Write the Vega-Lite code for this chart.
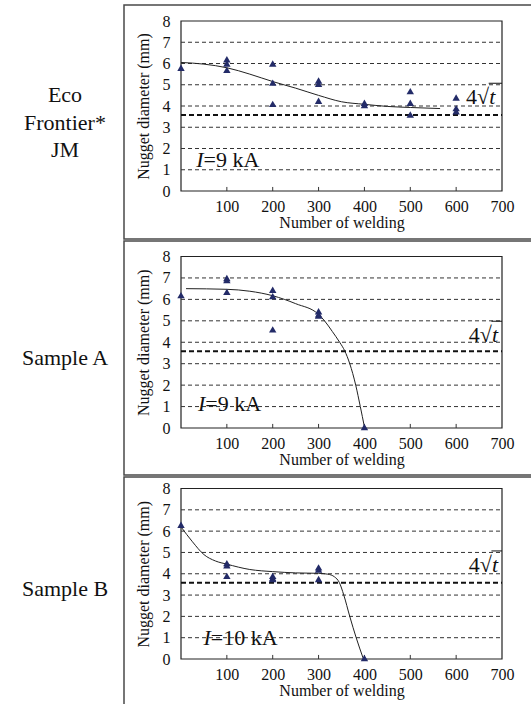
{
  "$schema": "https://vega.github.io/schema/vega-lite/v6.json",
  "padding": {"left": 7, "top": 4, "right": 0, "bottom": 0},
  "config": {
    "view": {"stroke": "#4a4a4a", "strokeWidth": 1.5},
    "concat": {"spacing": 0},
    "font": "'Liberation Serif', 'Times New Roman', 'DejaVu Serif', serif",
    "text": {"font": "'Liberation Serif', 'Times New Roman', 'DejaVu Serif', serif", "fontSize": 22, "color": "#111"},
    "axis": {"labelFont": "'Liberation Serif', 'Times New Roman', 'DejaVu Serif', serif", "titleFont": "'Liberation Serif', 'Times New Roman', 'DejaVu Serif', serif", "labelFontSize": 16, "titleFontSize": 16, "titleFontWeight": "normal", "labelColor": "#111", "titleColor": "#111", "grid": false, "domain": false, "ticks": false, "tickSize": 0, "labelFlush": false, "labelOverlap": false},
    "axisY": {"labelOverlap": false, "tickCount": 9}
  },
  "datasets": {
    "grid": [{"v": 1}, {"v": 2}, {"v": 3}, {"v": 4}, {"v": 5}, {"v": 6}, {"v": 7}],
    "ticks": [{"welds": 100}, {"welds": 200}, {"welds": 300}, {"welds": 400}, {"welds": 500}, {"welds": 600}],
    "pts1": [
      {"welds": 0, "diameter": 5.8},
      {"welds": 100, "diameter": 6.2}, {"welds": 100, "diameter": 6.0}, {"welds": 100, "diameter": 5.7},
      {"welds": 200, "diameter": 6.0}, {"welds": 200, "diameter": 5.1}, {"welds": 200, "diameter": 4.1},
      {"welds": 300, "diameter": 5.2}, {"welds": 300, "diameter": 5.05}, {"welds": 300, "diameter": 4.25},
      {"welds": 400, "diameter": 4.15}, {"welds": 400, "diameter": 4.05},
      {"welds": 500, "diameter": 4.7}, {"welds": 500, "diameter": 4.15}, {"welds": 500, "diameter": 3.6},
      {"welds": 600, "diameter": 4.4}, {"welds": 600, "diameter": 3.9}, {"welds": 600, "diameter": 3.75}
    ],
    "fit1": [
      {"welds": 0, "diameter": 6.05}, {"welds": 50, "diameter": 5.97}, {"welds": 100, "diameter": 5.8},
      {"welds": 150, "diameter": 5.5}, {"welds": 200, "diameter": 5.15}, {"welds": 250, "diameter": 4.84},
      {"welds": 300, "diameter": 4.5}, {"welds": 350, "diameter": 4.2}, {"welds": 400, "diameter": 4.08},
      {"welds": 450, "diameter": 3.98}, {"welds": 500, "diameter": 3.93}, {"welds": 565, "diameter": 3.88}
    ],
    "pts2": [
      {"welds": 0, "diameter": 6.2},
      {"welds": 100, "diameter": 7.0}, {"welds": 100, "diameter": 6.9}, {"welds": 100, "diameter": 6.35},
      {"welds": 200, "diameter": 6.45}, {"welds": 200, "diameter": 6.15}, {"welds": 200, "diameter": 4.6},
      {"welds": 300, "diameter": 5.45}, {"welds": 300, "diameter": 5.3}, {"welds": 300, "diameter": 5.25},
      {"welds": 400, "diameter": 0.05}
    ],
    "fit2": [
      {"welds": 11, "diameter": 6.5}, {"welds": 100, "diameter": 6.47}, {"welds": 150, "diameter": 6.38},
      {"welds": 200, "diameter": 6.17}, {"welds": 250, "diameter": 5.8}, {"welds": 300, "diameter": 5.3},
      {"welds": 313, "diameter": 5.0}, {"welds": 330, "diameter": 4.5}, {"welds": 346, "diameter": 4.0},
      {"welds": 357, "diameter": 3.6}, {"welds": 368, "diameter": 3.0}, {"welds": 381, "diameter": 2.0},
      {"welds": 391, "diameter": 1.0}, {"welds": 400, "diameter": 0.05}
    ],
    "pts3": [
      {"welds": 0, "diameter": 6.3},
      {"welds": 100, "diameter": 4.5}, {"welds": 100, "diameter": 4.4}, {"welds": 100, "diameter": 3.9},
      {"welds": 200, "diameter": 3.9}, {"welds": 200, "diameter": 3.8}, {"welds": 200, "diameter": 3.75},
      {"welds": 300, "diameter": 4.3}, {"welds": 300, "diameter": 4.2}, {"welds": 300, "diameter": 3.75},
      {"welds": 400, "diameter": 0.05}
    ],
    "fit3": [
      {"welds": 0, "diameter": 6.2}, {"welds": 25, "diameter": 5.5}, {"welds": 50, "diameter": 4.9},
      {"welds": 75, "diameter": 4.6}, {"welds": 100, "diameter": 4.45}, {"welds": 150, "diameter": 4.2},
      {"welds": 200, "diameter": 4.1}, {"welds": 250, "diameter": 4.04}, {"welds": 300, "diameter": 4.02},
      {"welds": 320, "diameter": 3.98}, {"welds": 335, "diameter": 3.85}, {"welds": 345, "diameter": 3.6},
      {"welds": 355, "diameter": 3.0}, {"welds": 368, "diameter": 2.0}, {"welds": 382, "diameter": 1.0},
      {"welds": 397, "diameter": 0.05}
    ]
  },
  "spacing": 0,
  "vconcat": [
    {
      "spacing": 0,
      "hconcat": [
        {
          "width": 116, "height": 234,
          "data": {"values": [{"label": "Eco\nFrontier*\nJM"}]},
          "mark": {"type": "text", "lineBreak": "\n", "lineHeight": 27.5, "baseline": "middle", "dy": -27},
          "encoding": {"text": {"field": "label"}}
        },
        {
          "width": 409, "height": 234,
          "layer": [
            {"data": {"values": [{}]}, "mark": {"type": "rect", "fillOpacity": 0, "stroke": "#222", "strokeWidth": 1.2},
             "encoding": {
               "x": {"datum": 0, "type": "quantitative", "scale": {"domain": [0, 700], "range": [57, 378], "nice": false, "zero": false}, "axis": {"values": [100, 200, 300, 400, 500, 600, 700], "format": "d", "offset": -48, "labelPadding": 7, "labelOverlap": false, "title": "Number of welding", "titlePadding": 0}},
               "x2": {"datum": 700},
               "y": {"datum": 0, "type": "quantitative", "scale": {"domain": [0, 8], "range": [186, 16], "nice": false, "zero": false}, "axis": {"values": [0, 1, 2, 3, 4, 5, 6, 7, 8], "tickCount": 9, "format": "d", "offset": -57, "labelPadding": 11, "labelOverlap": false, "title": "Nugget diameter (mm)", "titlePadding": 11}},
               "y2": {"datum": 8}}},
            {"data": {"name": "grid"}, "mark": {"type": "rule", "strokeDash": [4, 3], "strokeWidth": 1, "color": "#333"},
             "encoding": {"y": {"field": "v", "type": "quantitative"}, "x": {"datum": 0, "type": "quantitative"}, "x2": {"datum": 700}}},
            {"data": {"values": [{}]}, "mark": {"type": "rule", "strokeDash": [5, 3], "strokeWidth": 2, "color": "#111"},
             "encoding": {"y": {"datum": 3.58, "type": "quantitative"}, "x": {"datum": 0, "type": "quantitative"}, "x2": {"datum": 700}}},
            {"data": {"name": "ticks"}, "mark": {"type": "rule", "strokeWidth": 1, "color": "#333"},
             "encoding": {"x": {"field": "welds", "type": "quantitative"}, "y": {"datum": 0, "type": "quantitative"}, "y2": {"datum": 0.19}}},
            {"data": {"name": "fit1"}, "mark": {"type": "line", "interpolate": "monotone", "color": "#222", "strokeWidth": 1},
             "encoding": {"x": {"field": "welds", "type": "quantitative"}, "y": {"field": "diameter", "type": "quantitative"}}},
            {"data": {"name": "pts1"}, "mark": {"type": "point", "shape": "triangle-up", "filled": true, "size": 55, "color": "#232b68", "opacity": 1},
             "encoding": {"x": {"field": "welds", "type": "quantitative"}, "y": {"field": "diameter", "type": "quantitative"}}},
            {"data": {"values": [{}]}, "mark": {"type": "text", "text": "4√", "align": "right", "baseline": "alphabetic"},
             "encoding": {"x": {"datum": 672, "type": "quantitative"}, "y": {"datum": 4.08, "type": "quantitative"}}},
            {"data": {"values": [{}]}, "mark": {"type": "text", "text": "t", "align": "left", "baseline": "alphabetic", "fontStyle": "italic"},
             "encoding": {"x": {"datum": 672, "type": "quantitative"}, "y": {"datum": 4.08, "type": "quantitative"}}},
            {"data": {"values": [{}]}, "mark": {"type": "rule", "strokeWidth": 1, "color": "#111"},
             "encoding": {"x": {"datum": 671, "type": "quantitative"}, "x2": {"datum": 700}, "y": {"datum": 5.07, "type": "quantitative"}}},
            {"data": {"values": [{}]}, "mark": {"type": "text", "text": "I", "align": "right", "baseline": "alphabetic", "fontStyle": "italic"},
             "encoding": {"x": {"datum": 49, "type": "quantitative"}, "y": {"datum": 1.15, "type": "quantitative"}}},
            {"data": {"values": [{}]}, "mark": {"type": "text", "text": "=9 kA", "align": "left", "baseline": "alphabetic"},
             "encoding": {"x": {"datum": 49, "type": "quantitative"}, "y": {"datum": 1.15, "type": "quantitative"}}}
          ]
        }
      ]
    },
    {
      "spacing": 0,
      "hconcat": [
        {
          "width": 116, "height": 234,
          "data": {"values": [{"label": "Sample A"}]},
          "mark": {"type": "text", "baseline": "middle", "dy": 0},
          "encoding": {"text": {"field": "label"}}
        },
        {
          "width": 409, "height": 234,
          "layer": [
            {"data": {"values": [{}]}, "mark": {"type": "rect", "fillOpacity": 0, "stroke": "#222", "strokeWidth": 1.2},
             "encoding": {
               "x": {"datum": 0, "type": "quantitative", "scale": {"domain": [0, 700], "range": [57, 378], "nice": false, "zero": false}, "axis": {"values": [100, 200, 300, 400, 500, 600, 700], "format": "d", "offset": -47, "labelPadding": 7, "labelOverlap": false, "title": "Number of welding", "titlePadding": 0}},
               "x2": {"datum": 700},
               "y": {"datum": 0, "type": "quantitative", "scale": {"domain": [0, 8], "range": [187, 15.5], "nice": false, "zero": false}, "axis": {"values": [0, 1, 2, 3, 4, 5, 6, 7, 8], "tickCount": 9, "format": "d", "offset": -57, "labelPadding": 11, "labelOverlap": false, "title": "Nugget diameter (mm)", "titlePadding": 11}},
               "y2": {"datum": 8}}},
            {"data": {"name": "grid"}, "mark": {"type": "rule", "strokeDash": [4, 3], "strokeWidth": 1, "color": "#333"},
             "encoding": {"y": {"field": "v", "type": "quantitative"}, "x": {"datum": 0, "type": "quantitative"}, "x2": {"datum": 700}}},
            {"data": {"values": [{}]}, "mark": {"type": "rule", "strokeDash": [5, 3], "strokeWidth": 2, "color": "#111"},
             "encoding": {"y": {"datum": 3.58, "type": "quantitative"}, "x": {"datum": 0, "type": "quantitative"}, "x2": {"datum": 700}}},
            {"data": {"name": "ticks"}, "mark": {"type": "rule", "strokeWidth": 1, "color": "#333"},
             "encoding": {"x": {"field": "welds", "type": "quantitative"}, "y": {"datum": 0, "type": "quantitative"}, "y2": {"datum": 0.19}}},
            {"data": {"name": "fit2"}, "mark": {"type": "line", "interpolate": "monotone", "color": "#222", "strokeWidth": 1},
             "encoding": {"x": {"field": "welds", "type": "quantitative"}, "y": {"field": "diameter", "type": "quantitative"}}},
            {"data": {"name": "pts2"}, "mark": {"type": "point", "shape": "triangle-up", "filled": true, "size": 55, "color": "#232b68", "opacity": 1},
             "encoding": {"x": {"field": "welds", "type": "quantitative"}, "y": {"field": "diameter", "type": "quantitative"}}},
            {"data": {"values": [{}]}, "mark": {"type": "text", "text": "4√", "align": "right", "baseline": "alphabetic"},
             "encoding": {"x": {"datum": 678, "type": "quantitative"}, "y": {"datum": 4.0, "type": "quantitative"}}},
            {"data": {"values": [{}]}, "mark": {"type": "text", "text": "t", "align": "left", "baseline": "alphabetic", "fontStyle": "italic"},
             "encoding": {"x": {"datum": 678, "type": "quantitative"}, "y": {"datum": 4.0, "type": "quantitative"}}},
            {"data": {"values": [{}]}, "mark": {"type": "rule", "strokeWidth": 1, "color": "#111"},
             "encoding": {"x": {"datum": 677, "type": "quantitative"}, "x2": {"datum": 700}, "y": {"datum": 4.98, "type": "quantitative"}}},
            {"data": {"values": [{}]}, "mark": {"type": "text", "text": "I", "align": "right", "baseline": "alphabetic", "fontStyle": "italic"},
             "encoding": {"x": {"datum": 53, "type": "quantitative"}, "y": {"datum": 0.79, "type": "quantitative"}}},
            {"data": {"values": [{}]}, "mark": {"type": "text", "text": "=9 kA", "align": "left", "baseline": "alphabetic"},
             "encoding": {"x": {"datum": 53, "type": "quantitative"}, "y": {"datum": 0.79, "type": "quantitative"}}}
          ]
        }
      ]
    },
    {
      "spacing": 0,
      "hconcat": [
        {
          "width": 116, "height": 234,
          "data": {"values": [{"label": "Sample B"}]},
          "mark": {"type": "text", "baseline": "middle", "dy": -5},
          "encoding": {"text": {"field": "label"}}
        },
        {
          "width": 409, "height": 234,
          "layer": [
            {"data": {"values": [{}]}, "mark": {"type": "rect", "fillOpacity": 0, "stroke": "#222", "strokeWidth": 1.2},
             "encoding": {
               "x": {"datum": 0, "type": "quantitative", "scale": {"domain": [0, 700], "range": [57, 378], "nice": false, "zero": false}, "axis": {"values": [100, 200, 300, 400, 500, 600, 700], "format": "d", "offset": -52, "labelPadding": 7, "labelOverlap": false, "title": "Number of welding", "titlePadding": 0}},
               "x2": {"datum": 700},
               "y": {"datum": 0, "type": "quantitative", "scale": {"domain": [0, 8], "range": [182, 11.5], "nice": false, "zero": false}, "axis": {"values": [0, 1, 2, 3, 4, 5, 6, 7, 8], "tickCount": 9, "format": "d", "offset": -57, "labelPadding": 11, "labelOverlap": false, "title": "Nugget diameter (mm)", "titlePadding": 11}},
               "y2": {"datum": 8}}},
            {"data": {"name": "grid"}, "mark": {"type": "rule", "strokeDash": [4, 3], "strokeWidth": 1, "color": "#333"},
             "encoding": {"y": {"field": "v", "type": "quantitative"}, "x": {"datum": 0, "type": "quantitative"}, "x2": {"datum": 700}}},
            {"data": {"values": [{}]}, "mark": {"type": "rule", "strokeDash": [5, 3], "strokeWidth": 2, "color": "#111"},
             "encoding": {"y": {"datum": 3.58, "type": "quantitative"}, "x": {"datum": 0, "type": "quantitative"}, "x2": {"datum": 700}}},
            {"data": {"name": "ticks"}, "mark": {"type": "rule", "strokeWidth": 1, "color": "#333"},
             "encoding": {"x": {"field": "welds", "type": "quantitative"}, "y": {"datum": 0, "type": "quantitative"}, "y2": {"datum": 0.19}}},
            {"data": {"name": "fit3"}, "mark": {"type": "line", "interpolate": "monotone", "color": "#222", "strokeWidth": 1},
             "encoding": {"x": {"field": "welds", "type": "quantitative"}, "y": {"field": "diameter", "type": "quantitative"}}},
            {"data": {"name": "pts3"}, "mark": {"type": "point", "shape": "triangle-up", "filled": true, "size": 55, "color": "#232b68", "opacity": 1},
             "encoding": {"x": {"field": "welds", "type": "quantitative"}, "y": {"field": "diameter", "type": "quantitative"}}},
            {"data": {"values": [{}]}, "mark": {"type": "text", "text": "4√", "align": "right", "baseline": "alphabetic"},
             "encoding": {"x": {"datum": 678, "type": "quantitative"}, "y": {"datum": 4.1, "type": "quantitative"}}},
            {"data": {"values": [{}]}, "mark": {"type": "text", "text": "t", "align": "left", "baseline": "alphabetic", "fontStyle": "italic"},
             "encoding": {"x": {"datum": 678, "type": "quantitative"}, "y": {"datum": 4.1, "type": "quantitative"}}},
            {"data": {"values": [{}]}, "mark": {"type": "rule", "strokeWidth": 1, "color": "#111"},
             "encoding": {"x": {"datum": 677, "type": "quantitative"}, "x2": {"datum": 700}, "y": {"datum": 5.07, "type": "quantitative"}}},
            {"data": {"values": [{}]}, "mark": {"type": "text", "text": "I", "align": "right", "baseline": "alphabetic", "fontStyle": "italic"},
             "encoding": {"x": {"datum": 65, "type": "quantitative"}, "y": {"datum": 0.66, "type": "quantitative"}}},
            {"data": {"values": [{}]}, "mark": {"type": "text", "text": "=10 kA", "align": "left", "baseline": "alphabetic"},
             "encoding": {"x": {"datum": 65, "type": "quantitative"}, "y": {"datum": 0.66, "type": "quantitative"}}}
          ]
        }
      ]
    }
  ]
}
